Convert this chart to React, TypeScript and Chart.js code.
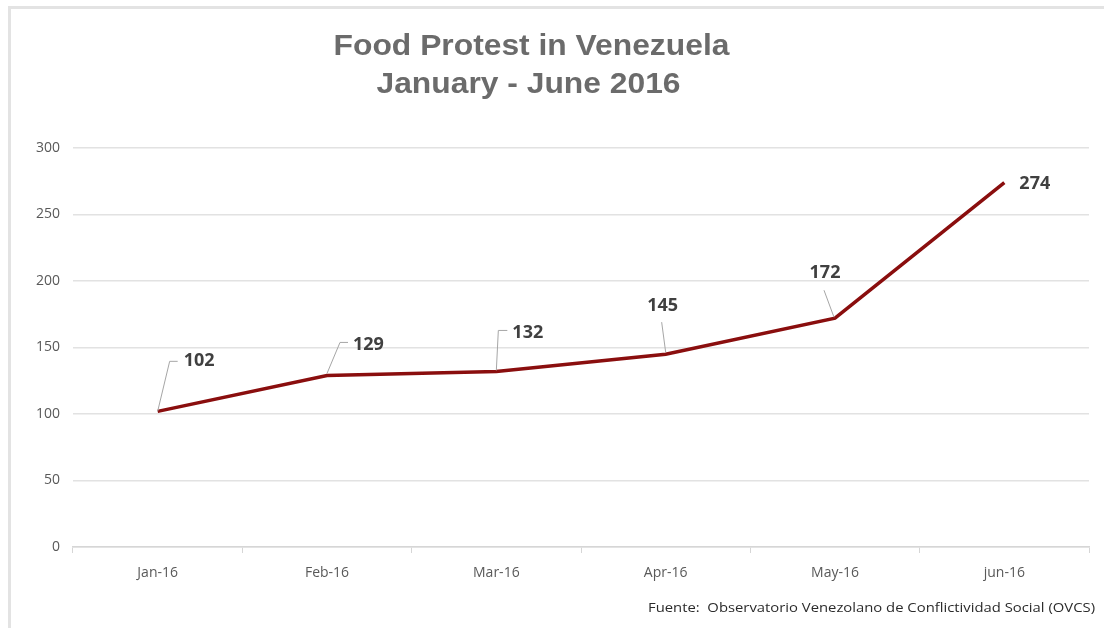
import React, { useEffect, useRef } from "react";
import { Chart, registerables } from "chart.js";

Chart.register(...registerables);

// ---------- data ----------
const categories = ["Jan-16", "Feb-16", "Mar-16", "Apr-16", "May-16", "jun-16"];
const protests = [102, 129, 132, 145, 172, 274];
const yTickValues = [0, 50, 100, 150, 200, 250, 300];
const titleLines = ["Food Protest in Venezuela", "January - June 2016"];
const sourceNote = "Fuente:  Observatorio Venezolano de Conflictividad Social (OVCS)";

// ---------- presentation (label placement relative to each point) ----------
type Placement = { leader: number[][]; dx: number; dy: number; align: CanvasTextAlign };
const labelPlacement: Placement[] = [
  { leader: [[0, 0], [12, -50], [20, -50]], dx: 26, dy: -50, align: "left" },
  { leader: [[0, -2], [13, -33], [21, -33]], dx: 26, dy: -31, align: "left" },
  { leader: [[0, -1], [2, -41], [11, -41]], dx: 16, dy: -39, align: "left" },
  { leader: [[0, -2], [-4, -32]], dx: -3, dy: -48, align: "center" },
  { leader: [[-1, -1], [-11, -28]], dx: -10, dy: -45, align: "center" },
  { leader: [], dx: 15, dy: 1, align: "left" },
];

const LINE_COLOR = "#8a0e0e";
const GRID_COLOR = "#e2e2e2";
const TICK_COLOR = "#595959";

const decorPlugin = {
  id: "decor",
  beforeDraw(chart: any) {
    const ctx = chart.ctx as CanvasRenderingContext2D;
    ctx.save();
    ctx.fillStyle = "#ffffff";
    ctx.fillRect(0, 0, chart.width, chart.height);
    // frame
    ctx.strokeStyle = "#e3e3e3";
    ctx.lineWidth = 3;
    ctx.beginPath();
    ctx.moveTo(9.5, chart.height);
    ctx.lineTo(9.5, 7.5);
    ctx.lineTo(chart.width, 7.5);
    ctx.stroke();
    // title
    ctx.fillStyle = "#6b6b6b";
    ctx.font = 'bold 30px "Liberation Sans", Arial, sans-serif';
    ctx.textAlign = "center";
    ctx.textBaseline = "alphabetic";
    const sx = 1.06;
    const centers = [531.5, 528.5];
    const baselines = [55, 93];
    titleLines.forEach((t, i) => {
      ctx.save();
      ctx.translate(centers[i], baselines[i]);
      ctx.scale(sx, 1);
      ctx.fillText(t, 0, 0);
      ctx.restore();
    });
    ctx.restore();
  },
  afterDatasetsDraw(chart: any) {
    const ctx = chart.ctx as CanvasRenderingContext2D;
    const meta = chart.getDatasetMeta(0);
    ctx.save();
    meta.data.forEach((pt: any, i: number) => {
      const p = labelPlacement[i];
      const x = pt.x;
      const y = pt.y;
      if (p.leader.length > 1) {
        ctx.strokeStyle = "#a6a6a6";
        ctx.lineWidth = 1;
        ctx.beginPath();
        p.leader.forEach(([lx, ly], k) => {
          if (k === 0) ctx.moveTo(x + lx, y + ly);
          else ctx.lineTo(x + lx, y + ly);
        });
        ctx.stroke();
      }
      ctx.fillStyle = "#404040";
      ctx.font = 'bold 18px "Open Sans", sans-serif';
      ctx.textAlign = p.align;
      ctx.textBaseline = "middle";
      ctx.fillText(String(protests[i]), x + p.dx, y + p.dy);
    });
    ctx.restore();
  },
  afterDraw(chart: any) {
    const ctx = chart.ctx as CanvasRenderingContext2D;
    ctx.save();
    ctx.fillStyle = "#2b2b2b";
    ctx.font = '13px "Open Sans", sans-serif';
    ctx.textAlign = "right";
    ctx.textBaseline = "middle";
    const w = ctx.measureText(sourceNote).width;
    const sx = 447 / w;
    ctx.translate(1095, 608);
    ctx.scale(sx, 1);
    ctx.fillText(sourceNote, 0, 0);
    ctx.restore();
  },
};

export default function App() {
  const canvasRef = useRef<HTMLCanvasElement | null>(null);

  useEffect(() => {
    if (!canvasRef.current) return;
    const chart = new Chart(canvasRef.current, {
      type: "line",
      data: {
        labels: categories,
        datasets: [
          {
            label: "Food protests",
            data: protests,
            borderColor: LINE_COLOR,
            backgroundColor: LINE_COLOR,
            borderWidth: 3.5,
            pointRadius: 0,
            tension: 0,
            fill: false,
          },
        ],
      },
      options: {
        animation: false,
        responsive: true,
        maintainAspectRatio: false,
        layout: { padding: { left: 10, right: 15, top: 148, bottom: 31 } },
        plugins: {
          legend: { display: false },
          title: { display: false },
          tooltip: { enabled: false },
        },
        scales: {
          x: {
            offset: true,
            grid: {
              offset: true,
              drawOnChartArea: false,
              drawTicks: true,
              tickLength: 6,
              color: "#d6d6d6",
            },
            border: { display: true, color: "#d6d6d6", width: 1.5 },
            ticks: {
              color: TICK_COLOR,
              font: { family: '"Open Sans", sans-serif', size: 14 },
              padding: 12,
              maxRotation: 0,
            },
            afterFit(scale: any) {
              scale.height = 50;
            },
          },
          y: {
            min: 0,
            max: 300,
            afterBuildTicks(scale: any) {
              scale.ticks = yTickValues.map((v) => ({ value: v }));
            },
            grid: { color: GRID_COLOR, drawTicks: false, lineWidth: 1.5 },
            border: { display: false },
            ticks: {
              color: TICK_COLOR,
              font: { family: '"Open Sans", sans-serif', size: 14 },
              padding: 13,
            },
            afterFit(scale: any) {
              scale.width = 63;
            },
          },
        },
      },
      plugins: [decorPlugin],
    });
    return () => chart.destroy();
  }, []);

  return (
    <div style={{ position: "absolute", left: 0, top: 0, width: 1104, height: 628, background: "#fff" }}>
      <canvas ref={canvasRef} />
    </div>
  );
}
